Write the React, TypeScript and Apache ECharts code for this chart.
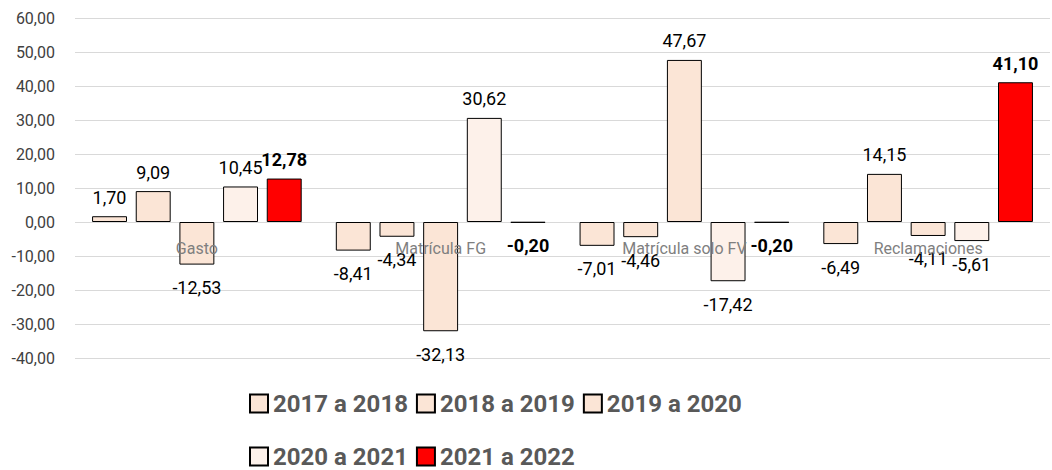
import React, { useEffect, useRef } from "react";
import * as echarts from "echarts";

const categories = ["Gasto", "Matrícula FG", "Matrícula solo FV", "Reclamaciones"];
const seriesNames = ["2017 a 2018", "2018 a 2019", "2019 a 2020", "2020 a 2021", "2021 a 2022"];
const s2017 = [1.7, -8.41, -7.01, -6.49];
const s2018 = [9.09, -4.34, -4.46, 14.15];
const s2019 = [-12.53, -32.13, 47.67, -4.11];
const s2020 = [10.45, 30.62, -17.42, -5.61];
const s2021 = [12.78, -0.2, -0.2, 41.1];
const seriesValues = [s2017, s2018, s2019, s2020, s2021];
const seriesColors = ["#FBE5D6", "#FBE5D6", "#FBE5D6", "#FDF1EA", "#FF0000"];
const boldLabels = [false, false, false, false, true];

const fmt = (v: number) => v.toFixed(2).replace(".", ",");

export default function App() {
  const ref = useRef<HTMLDivElement>(null);
  useEffect(() => {
    if (!ref.current) return;
    const chart = echarts.init(ref.current, undefined, { renderer: "svg" });
    const series = seriesNames.map((name, i) => ({
      name,
      type: "bar",
      barGap: "25%",
      barCategoryGap: "14%",
      z: 2,
      itemStyle: { color: seriesColors[i], borderColor: "#000000", borderWidth: 1 },
      data: seriesValues[i].map((v) => ({
        value: v,
        label: { position: v < 0 ? "bottom" : "top", distance: v < 0 ? 14 : 10 },
      })),
      label: {
        show: true,
        formatter: (p: any) => fmt(p.value),
        color: "#000000",
        fontSize: 18,
        fontFamily: "Roboto",
        fontWeight: boldLabels[i] ? "bold" : "normal",
      },
    }));
    chart.setOption({
      animation: false,
      backgroundColor: "#ffffff",
      grid: { left: 75, right: 2, top: 18, height: 340, containLabel: false },
      legend: {
        data: seriesNames,
        left: 244,
        top: 376,
        width: 640,
        itemGap: 8,
        itemWidth: 18,
        itemHeight: 18,
        icon: "rect",
        textStyle: {
          fontSize: 24,
          fontWeight: "bold",
          color: "#595959",
          fontFamily: "Roboto",
          lineHeight: 45,
        },
      },
      xAxis: {
        type: "category",
        data: categories,
        z: 10,
        axisLine: { show: false, onZero: false },
        axisTick: { show: false },
        axisLabel: { color: "#7f7f7f", fontSize: 16, fontFamily: "Roboto", margin: -118 },
      },
      yAxis: {
        type: "value",
        min: -40,
        max: 60,
        interval: 10,
        axisLine: { show: false },
        axisTick: { show: false },
        splitLine: { lineStyle: { color: "#d9d9d9" } },
        axisLabel: {
          formatter: (v: number) => fmt(v),
          color: "#404040",
          fontSize: 16,
          fontFamily: "Roboto",
          margin: 20,
        },
      },
      series,
    });
    return () => chart.dispose();
  }, []);
  return (
    <div
      ref={ref}
      style={{ position: "absolute", left: 0, top: 0, width: 1052, height: 470 }}
    />
  );
}
